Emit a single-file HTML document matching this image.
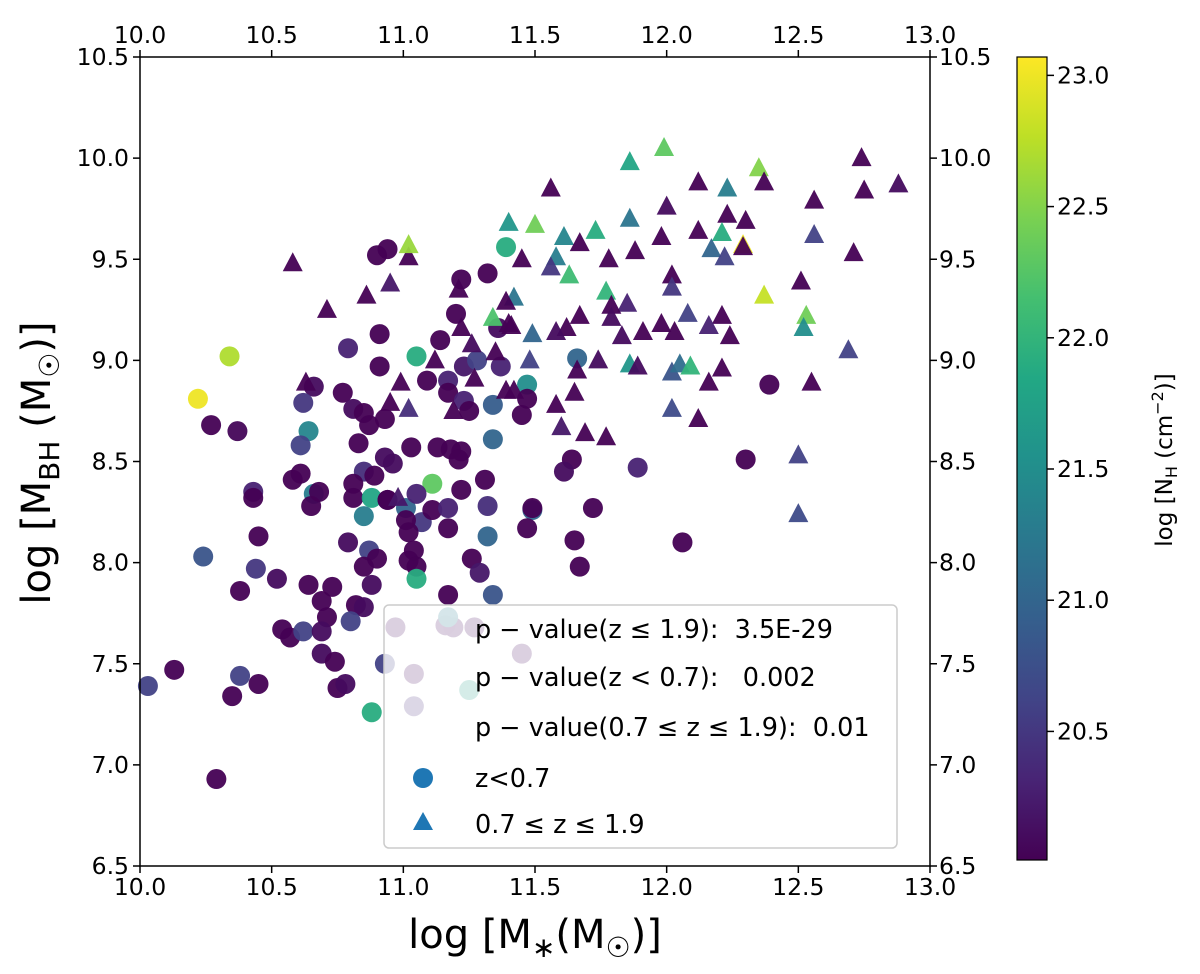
<!DOCTYPE html>
<html><head><meta charset="utf-8"><style>
html,body{margin:0;padding:0;background:#fff;}
svg{display:block;font-family:"DejaVu Sans","Liberation Sans",sans-serif;}
text{white-space:pre;}
</style></head><body>
<svg id="chart" width="1200" height="974" viewBox="0 0 1200 974" xmlns="http://www.w3.org/2000/svg">
<defs><linearGradient id="vir" x1="0" y1="1" x2="0" y2="0">
<stop offset="0" stop-color="#440154"/><stop offset="0.1" stop-color="#482475"/><stop offset="0.2" stop-color="#414487"/><stop offset="0.3" stop-color="#355f8d"/><stop offset="0.4" stop-color="#2a788e"/><stop offset="0.5" stop-color="#21918c"/><stop offset="0.6" stop-color="#22a884"/><stop offset="0.7" stop-color="#44bf70"/><stop offset="0.8" stop-color="#7ad151"/><stop offset="0.9" stop-color="#bddf26"/><stop offset="1" stop-color="#fde725"/>
</linearGradient></defs>
<g id="marks"></g>
<g id="axes"></g>
<g id="legend">
<rect x="384" y="605" width="513" height="243" rx="5" fill="#fff" fill-opacity="0.8" stroke="#cccccc" stroke-width="1.5"/>
<text x="475" y="638" font-size="25.5">p − value(z ≤ 1.9):  3.5E-29</text>
<text x="475" y="686" font-size="25.5">p − value(z &lt; 0.7):   0.002</text>
<text x="475" y="736" font-size="25.5">p − value(0.7 ≤ z ≤ 1.9):  0.01</text>
<circle cx="423" cy="778" r="10" fill="#1f77b4"/>
<text x="475" y="787" font-size="25.5">z&lt;0.7</text>
<polygon points="423,812 433,830 413,830" fill="#1f77b4"/>
<text x="475" y="833" font-size="25.5">0.7 ≤ z ≤ 1.9</text>
</g>
<g id="cbar">
<rect x="1017" y="57" width="30" height="803" fill="url(#vir)" stroke="#000" stroke-width="1.2"/>
<text transform="translate(1172,460) rotate(-90)" text-anchor="middle" font-size="23">log [N<tspan font-size="16" dy="5">H</tspan><tspan dy="-5"> (cm</tspan><tspan font-size="16" dy="-9">−2</tspan><tspan dy="9">)]</tspan></text>
</g>
<text x="535" y="948" text-anchor="middle" font-size="40">log [M<tspan font-size="28" dy="9">∗</tspan><tspan dy="-9">(M</tspan><tspan font-size="28" dy="9">☉</tspan><tspan dy="-9">)]</tspan></text>
<text transform="translate(50,463) rotate(-90)" text-anchor="middle" font-size="40">log [M<tspan font-size="28" dy="9">BH</tspan><tspan dy="-9"> (M</tspan><tspan font-size="28" dy="9">☉</tspan><tspan dy="-9">)]</tspan></text>
</svg>
<script>
const circX=[10.34,10.22,10.27,10.37,10.79,10.91,10.91,10.66,10.62,10.77,10.81,10.85,10.87,10.93,10.64,10.61,10.83,10.58,10.61,10.43,10.43,10.66,10.68,10.65,10.93,10.96,10.85,10.89,10.81,10.81,10.88,10.85,10.94,10.45,10.24,10.79,10.87,10.90,10.85,10.44,10.52,10.38,10.64,10.73,10.69,10.71,10.88,10.82,10.85,10.80,10.54,10.57,10.62,10.69,10.69,10.74,10.93,10.13,10.03,10.38,10.45,10.35,10.75,10.78,10.88,10.29,
10.90,10.94,11.39,11.32,11.22,11.20,11.36,11.14,11.05,11.23,11.28,11.37,11.09,11.17,11.17,11.47,11.47,11.45,11.34,11.23,11.25,11.03,11.13,11.18,11.22,11.21,11.34,11.31,11.22,11.11,11.32,11.49,11.47,11.17,11.32,11.07,11.11,11.17,11.01,10.94,11.05,11.01,11.02,11.04,11.02,11.05,11.05,11.26,11.29,11.34,11.17,
11.66,12.39,11.64,11.61,11.89,12.30,11.49,11.72,11.65,12.06,11.67,
10.97,11.16,11.19,11.27,11.45,11.04,11.25,11.04,11.17];
const circY=[9.02,8.81,8.68,8.65,9.06,9.13,8.97,8.87,8.79,8.84,8.76,8.74,8.68,8.71,8.65,8.58,8.59,8.41,8.44,8.35,8.32,8.34,8.35,8.28,8.52,8.49,8.45,8.43,8.39,8.32,8.32,8.23,8.31,8.13,8.03,8.10,8.06,8.02,7.98,7.97,7.92,7.86,7.89,7.88,7.81,7.73,7.89,7.79,7.78,7.71,7.67,7.63,7.66,7.66,7.55,7.51,7.50,7.47,7.39,7.44,7.40,7.34,7.38,7.40,7.26,6.93,
9.52,9.55,9.56,9.43,9.40,9.23,9.16,9.10,9.02,8.97,9.00,8.97,8.90,8.90,8.84,8.88,8.81,8.73,8.78,8.80,8.75,8.57,8.57,8.56,8.55,8.51,8.61,8.41,8.36,8.39,8.28,8.26,8.17,8.17,8.13,8.20,8.26,8.27,8.27,8.31,8.34,8.21,8.15,8.06,8.01,7.98,7.92,8.02,7.95,7.84,7.84,
9.01,8.88,8.51,8.45,8.47,8.51,8.27,8.27,8.11,8.10,7.98,
7.68,7.69,7.68,7.68,7.55,7.45,7.37,7.29,7.73];
const circNH=[22.7,23.0,20.0,20.05,20.3,20.0,20.0,20.1,20.5,20.0,20.1,20.0,20.0,20.0,21.4,20.6,20.0,20.0,20.0,20.3,20.0,21.3,20.0,20.0,20.1,20.1,20.4,20.0,20.0,20.0,21.8,21.3,20.0,20.0,20.8,20.1,20.6,20.0,20.0,20.5,20.1,20.0,20.0,20.0,20.0,20.0,20.1,20.0,20.1,20.6,20.0,20.0,20.6,20.1,20.1,20.0,20.6,20.0,20.6,20.6,20.0,20.0,20.0,20.1,21.9,20.0,
20.0,20.0,21.9,20.0,20.0,20.0,20.1,20.0,21.9,20.2,20.6,20.3,20.0,20.3,20.0,21.5,20.0,20.0,20.9,20.3,20.0,20.0,20.0,20.0,20.0,20.0,21.0,20.0,20.0,22.3,20.4,21.0,20.0,20.0,21.0,20.5,20.0,20.3,21.0,20.0,20.3,20.0,20.0,20.0,20.0,20.0,21.9,20.0,20.2,20.8,20.0,
21.0,20.0,20.0,20.1,20.3,20.0,20.0,20.0,20.0,20.0,20.0,
20.1,20.1,20.1,20.1,20.1,20.1,21.7,20.4,21.3];
const triX=[11.99,11.86,11.56,12.12,12.23,12.35,12.37,12.74,12.75,12.88,12.56,12.00,12.23,12.30,11.86,11.40,11.50,11.73,12.12,12.21,11.98,11.61,11.67,12.56,12.29,12.17,11.88,12.29,12.22,11.58,11.56,11.45,11.78,12.71,11.63,12.02,12.02,12.37,12.51,11.77,11.42,11.85,11.79,12.53,12.52,12.08,12.21,12.16,12.24,11.67,11.79,11.98,12.03,11.91,11.83,11.62,11.58,11.49,11.41,12.69,11.48,11.74,11.86,11.89,12.02,12.05,12.09,12.21,12.16,12.55,11.66,11.65,11.58,12.02,12.12,11.60,11.69,11.77,12.50,12.50,
11.02,11.02,10.58,11.21,10.86,10.95,10.71,11.39,11.34,11.40,11.22,11.26,11.35,11.12,11.27,11.39,11.42,10.99,10.63,10.95,11.02,11.19,10.98];
const triY=[10.05,9.98,9.85,9.88,9.85,9.95,9.88,10.00,9.84,9.87,9.79,9.76,9.72,9.69,9.70,9.68,9.67,9.64,9.64,9.63,9.61,9.61,9.58,9.62,9.57,9.55,9.54,9.56,9.51,9.51,9.46,9.50,9.50,9.53,9.42,9.42,9.36,9.32,9.39,9.34,9.31,9.28,9.27,9.22,9.16,9.23,9.22,9.17,9.12,9.22,9.21,9.18,9.14,9.14,9.12,9.16,9.14,9.13,9.17,9.05,9.00,9.00,8.98,8.97,8.94,8.98,8.97,8.96,8.89,8.89,8.95,8.84,8.78,8.76,8.71,8.67,8.64,8.62,8.53,8.24,
9.51,9.57,9.48,9.35,9.32,9.38,9.25,9.29,9.21,9.18,9.16,9.08,9.04,9.00,8.91,8.85,8.85,8.89,8.89,8.79,8.76,8.75,8.32];
const triNH=[22.3,21.8,20.0,20.0,21.3,22.5,20.0,20.0,20.0,20.1,20.0,20.1,20.0,20.0,21.2,21.6,22.4,21.9,20.0,21.9,20.0,21.4,20.0,20.6,23.0,21.0,20.0,20.0,20.6,21.3,20.5,20.0,20.0,20.0,22.1,20.0,20.5,22.8,20.0,22.0,21.2,20.3,20.0,22.4,21.5,20.6,20.0,20.3,20.0,20.0,20.1,20.0,20.0,20.0,20.1,20.0,20.1,21.0,20.0,20.6,20.6,20.1,21.6,20.1,20.8,21.1,22.0,20.0,20.0,20.0,20.0,20.0,20.0,20.7,20.0,20.2,20.0,20.0,20.6,20.7,
20.0,22.6,20.0,20.0,20.0,20.2,20.0,20.0,22.2,20.0,20.0,20.1,20.0,20.0,20.0,20.0,20.0,20.0,20.0,20.0,20.4,20.0,20.2];
const xTicks=[10.0,10.5,11.0,11.5,12.0,12.5,13.0];
const yTicks=[6.5,7.0,7.5,8.0,8.5,9.0,9.5,10.0,10.5];
const cTicks=[20.5,21.0,21.5,22.0,22.5,23.0];

const NS='http://www.w3.org/2000/svg';
const X0=140,X1=930,Y0=866,Y1=57;
const xs=v=>X0+(v-10)/3*(X1-X0);
const ys=v=>Y0-(v-6.5)/4*(Y0-Y1);
const CMIN=20.01,CMAX=23.07,CB0=860,CB1=57;
const cs=v=>CB0-(v-CMIN)/(CMAX-CMIN)*(CB0-CB1);
const vir=[[68,1,84],[72,36,117],[65,68,135],[53,95,141],[42,120,142],[33,145,140],[34,168,132],[68,191,112],[122,209,81],[189,223,38],[253,231,37]];
function color(v){let t=Math.max(0,Math.min(1,(v-CMIN)/(CMAX-CMIN)))*10;let i=Math.min(9,Math.floor(t)),f=t-i;const a=vir[i],b=vir[i+1];return 'rgb('+a.map((c,k)=>Math.round(c+(b[k]-c)*f)).join(',')+')';}
function mk(tag,attrs,parent){const e=document.createElementNS(NS,tag);for(const k in attrs)e.setAttribute(k,attrs[k]);parent.appendChild(e);return e;}
const marks=document.getElementById('marks');
for(let i=0;i<circX.length;i++){
  const c=mk('circle',{cx:xs(circX[i]),cy:ys(circY[i]),r:10,fill:color(circNH[i]),'fill-opacity':0.95},marks);
  
  
}
for(let i=0;i<triX.length;i++){
  const x=xs(triX[i]),y=ys(triY[i]);
  const p=mk('polygon',{points:(x)+','+(y-11)+' '+(x+10)+','+(y+8)+' '+(x-10)+','+(y+8),fill:color(triNH[i]),'fill-opacity':0.95},marks);
  
  
}
const ax=document.getElementById('axes');
const fr=mk('rect',{x:X0,y:Y1,width:X1-X0,height:Y0-Y1,fill:'none',stroke:'#000','stroke-width':1.5},ax);


xTicks.forEach(v=>{
  const x=xs(v);
  mk('line',{x1:x,x2:x,y1:Y0,y2:Y0+7,stroke:'#000','stroke-width':1.5},ax);
  mk('line',{x1:x,x2:x,y1:Y1,y2:Y1-7,stroke:'#000','stroke-width':1.5},ax);
  const b=mk('text',{x:x,y:Y0+29,'text-anchor':'middle','font-size':23.5},ax);b.textContent=v.toFixed(1);
  
  
  const t=mk('text',{x:x,y:Y1-14,'text-anchor':'middle','font-size':23.5},ax);t.textContent=v.toFixed(1);
  
  
});
yTicks.forEach(v=>{
  const y=ys(v);
  mk('line',{x1:X0-7,x2:X0,y1:y,y2:y,stroke:'#000','stroke-width':1.5},ax);
  mk('line',{x1:X1,x2:X1+7,y1:y,y2:y,stroke:'#000','stroke-width':1.5},ax);
  const l=mk('text',{x:X0-11,y:y+8,'text-anchor':'end','font-size':23.5},ax);l.textContent=v.toFixed(1);
  
  
  const r=mk('text',{x:X1+9,y:y+8,'text-anchor':'start','font-size':23.5},ax);r.textContent=v.toFixed(1);
  
  
});
const cb=document.getElementById('cbar');
cTicks.forEach(v=>{
  const y=cs(v);
  mk('line',{x1:1047,x2:1054,y1:y,y2:y,stroke:'#000','stroke-width':1.5},cb);
  const t=mk('text',{x:1057,y:y+8,'font-size':23.5},cb);t.textContent=v.toFixed(1);
  
  
});
</script>
</body></html>
